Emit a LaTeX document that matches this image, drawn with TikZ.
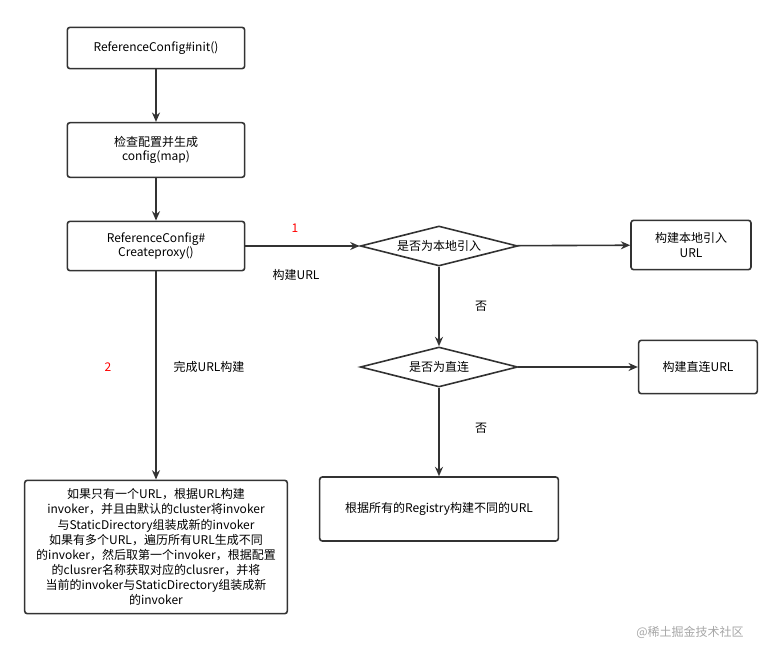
\documentclass[tikz,border=0pt]{standalone}
\usepackage{fontspec}
\setmainfont{Noto Sans CJK SC}
\usetikzlibrary{shapes.geometric,arrows.meta}
\definecolor{linegray}{HTML}{333333}
\begin{document}
\begin{tikzpicture}[x=0.75pt, y=-0.75pt, >={Stealth[length=7pt,width=6pt]},
    font=\fontsize{9}{11}\selectfont]
    \tikzset{stepbox/.style={draw=linegray, line width=1.2pt, rounded corners=2pt, align=center, inner sep=2pt},
        decide/.style={draw=linegray, line width=1.2pt, diamond, aspect=3.9, minimum width=118pt, minimum height=30pt, inner sep=0pt},
        conn/.style={draw=linegray, line width=1.2pt, ->},
        label/.style={inner sep=1pt}}
    \useasboundingbox (0,0) rectangle (782,659);
    \node[stepbox, minimum width=133pt, minimum height=31pt] (init) at (156,48) {ReferenceConfig\#init()};
    \node[stepbox, minimum width=133pt, minimum height=41pt] (check) at (156,150) {检查配置并生成\\config(map)};
    \node[stepbox, minimum width=133pt, minimum height=37pt] (proxy) at (156,246) {ReferenceConfig\#\\Createproxy()};
    \node[decide] (local) at (439,246) {是否为本地引入};
    \node[stepbox, minimum width=90pt, minimum height=37pt] (buildlocal) at (691,245) {构建本地引入\\URL};
    \node[decide] (direct) at (439,367) {是否为直连};
    \node[stepbox, minimum width=89pt, minimum height=40pt] (builddirect) at (698,367) {构建直连URL};
    \node[stepbox, minimum width=179pt, minimum height=48pt] (registry) at (439,509) {根据所有的Registry构建不同的URL};
    \node[stepbox, minimum width=197pt, minimum height=100pt,
        font=\fontsize{9}{11.3}\selectfont] (invoker) at (156,547)
        {如果只有一个URL，根据URL构建\\
         invoker，并且由默认的cluster将invoker\\
         与StaticDirectory组装成新的invoker\\
         如果有多个URL，遍历所有URL生成不同\\
         的invoker，然后取第一个invoker，根据配置\\
         的clusrer名称获取对应的clusrer，并将\\
         当前的invoker与StaticDirectory组装成新\\
         的invoker};
    \draw[conn] (init) -- (check);
    \draw[conn] (check) -- (proxy);
    \draw[conn] (proxy) -- (local);
    \draw[conn] (local) -- (buildlocal);
    \draw[conn] (local) -- (direct);
    \draw[conn] (direct) -- (builddirect);
    \draw[conn] (direct) -- (registry);
    \draw[conn] (proxy) -- (invoker);
    \node[label, red] (one) at (295,228) {1};
    \node[label] (urlbuild) at (296,275) {构建URL};
    \node[label] (no1) at (481,306) {否};
    \node[label] (no2) at (481,428) {否};
    \node[label, red] (two) at (108,367) {2};
    \node[label] (done) at (209,367) {完成URL构建};
    \node[label, gray!70] (mark) at (690,632) {@稀土掘金技术社区};
\end{tikzpicture}
\end{document}
